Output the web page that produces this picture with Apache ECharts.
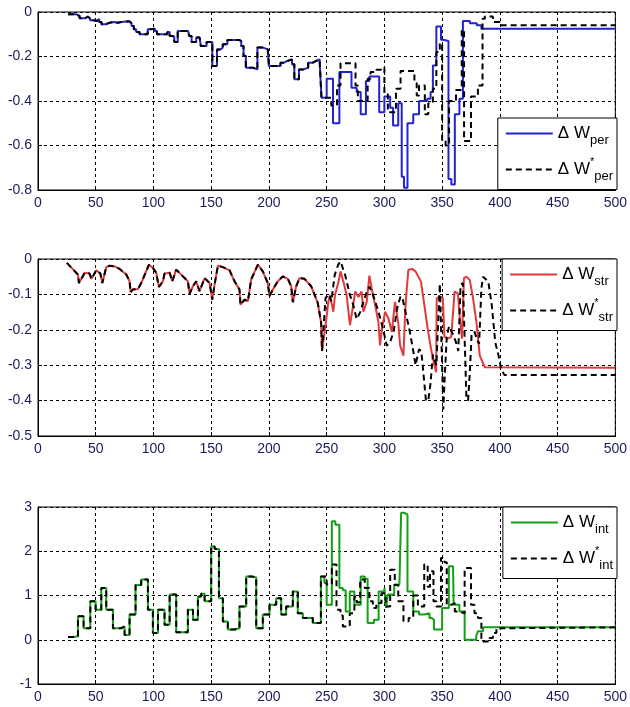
<!DOCTYPE html>
<html>
<head>
<meta charset="utf-8">
<script src="https://cdn.jsdelivr.net/npm/echarts@6/dist/echarts.min.js"></script>
<style>
html, body { margin: 0; padding: 0; background: #fff; }
#chart { width: 630px; height: 707px; }
</style>
</head>
<body>
<div id="chart"></div>
<script>
// ---- data ----
// panel 1 : Delta W_per (stairs), shared part then the two diverging tails
const perCommon = [[26,-0.010],[33,-0.018],[36,-0.028],[41,-0.021],[43,-0.028],[45,-0.037],[48,-0.040],[51,-0.032],[53,-0.045],[55,-0.055],[59,-0.050],[61,-0.047],[63,-0.045],[66,-0.048],[69,-0.045],[72,-0.042],[79,-0.050],[81,-0.063],[83,-0.078],[85,-0.090],[88,-0.100],[95,-0.078],[97,-0.075],[101,-0.085],[103,-0.100],[112,-0.090],[114,-0.108],[116,-0.110],[118,-0.135],[121,-0.085],[130,-0.090],[131,-0.108],[133,-0.135],[137,-0.115],[140,-0.120],[141,-0.153],[146,-0.135],[151,-0.243],[155,-0.168],[158,-0.160],[160,-0.145],[164,-0.126],[174,-0.130],[176,-0.153],[178,-0.198],[180,-0.250],[186,-0.258],[190,-0.160],[195,-0.168],[199,-0.175],[200,-0.243],[210,-0.228],[213,-0.220],[216,-0.213],[220,-0.235],[222,-0.302],[226,-0.258],[230,-0.250],[234,-0.228],[238,-0.220],[241,-0.213],[244,-0.228],[245.5,-0.385]];
const perTail = [[250,-0.30],[255.5,-0.50],[261,-0.27],[271.5,-0.34],[276,-0.36],[279.5,-0.46],[284,-0.31],[287,-0.29],[295.5,-0.45],[300,-0.38],[305,-0.43],[307.5,-0.51],[312,-0.41],[315,-0.74],[317,-0.79],[320,-0.50],[325,-0.46],[330,-0.40],[337,-0.39],[340,-0.36],[342,-0.24],[345,-0.065],[349,-0.125],[351,-0.13],[355.5,-0.75],[358,-0.775],[361,-0.46],[365,-0.39],[368,-0.04],[374,-0.05],[380,-0.06],[384,-0.075],[500,-0.075]];
const perStarTail = [[254,-0.42],[259,-0.33],[262,-0.23],[275,-0.33],[277,-0.40],[285.5,-0.30],[288,-0.27],[293,-0.26],[297,-0.25],[300,-0.37],[303,-0.45],[310,-0.345],[314,-0.265],[326,-0.32],[328,-0.375],[330,-0.33],[335,-0.46],[338,-0.41],[342,-0.345],[345,-0.18],[348,-0.14],[350,-0.58],[353,-0.60],[356,-0.40],[362,-0.35],[367,-0.08],[369,-0.58],[375,-0.38],[381,-0.33],[385,-0.03],[387,-0.02],[394,-0.045],[400,-0.06],[500,-0.06]];

// panel 2 : Delta W_str (plain lines)
const strCommon = [[25,-0.011],[34.6,-0.044],[35.5,-0.068],[40.4,-0.039],[44.7,-0.041],[46.2,-0.056],[50.5,-0.032],[54,-0.041],[55.7,-0.068],[59.1,-0.023],[62,-0.019],[66.4,-0.021],[70.7,-0.028],[76.5,-0.044],[79.3,-0.063],[80.2,-0.094],[82.2,-0.086],[86.6,-0.085],[89.4,-0.068],[96.1,-0.016],[99.5,-0.025],[102.4,-0.039],[104.7,-0.079],[108.2,-0.063],[109.6,-0.041],[114,-0.039],[116.3,-0.063],[119.7,-0.030],[125.5,-0.049],[129.8,-0.063],[131.3,-0.098],[134.2,-0.077],[137,-0.063],[139.9,-0.091],[144.3,-0.054],[148.6,-0.068],[150.9,-0.115],[152.9,-0.073],[155.8,-0.019],[160.1,-0.023],[165.9,-0.032],[170.2,-0.063],[174.5,-0.086],[175.4,-0.129],[178.9,-0.115],[181.8,-0.119],[184.6,-0.058],[190.4,-0.016],[194.7,-0.035],[199,-0.068],[200.5,-0.105],[203.4,-0.086],[207.7,-0.063],[212,-0.049],[216.4,-0.056],[219.3,-0.077],[220.7,-0.122],[223.6,-0.077],[226.5,-0.054],[230.8,-0.056],[236.6,-0.077],[242.3,-0.124],[245.2,-0.180],[246,-0.26]];
const strTail = [[249.4,-0.178],[251.4,-0.121],[253,-0.102],[254.3,-0.125],[255.8,-0.149],[257.2,-0.102],[260,-0.068],[262,-0.035],[264.5,-0.064],[267.3,-0.102],[270.2,-0.187],[273,-0.13],[274.6,-0.092],[277.5,-0.107],[280.3,-0.092],[281.8,-0.149],[284.7,-0.121],[287,-0.047],[289,-0.083],[292,-0.13],[294.8,-0.178],[296.2,-0.244],[297.7,-0.201],[300.6,-0.149],[303.5,-0.168],[306.4,-0.206],[309.2,-0.121],[312.1,-0.182],[313.6,-0.244],[316.5,-0.273],[318,-0.149],[319.4,-0.083],[320.8,-0.030],[324,-0.028],[327,-0.035],[331.7,-0.064],[334.6,-0.13],[337.5,-0.197],[340.4,-0.254],[343.3,-0.30],[344.8,-0.32],[345.3,-0.111],[347.7,-0.106],[350.6,-0.11],[352,-0.22],[355,-0.225],[357.9,-0.22],[360.8,-0.092],[363.7,-0.097],[365.1,-0.16],[367.2,-0.225],[368.9,-0.054],[371,-0.05],[373.9,-0.059],[376.8,-0.111],[379.7,-0.178],[382.6,-0.273],[387,-0.306],[500,-0.307]];
const strStarTail = [[249,-0.11],[252,-0.10],[254,-0.12],[257,-0.045],[260,-0.016],[262,-0.007],[266,-0.045],[270,-0.10],[273,-0.13],[276,-0.17],[279,-0.15],[282,-0.12],[285,-0.09],[287,-0.078],[290,-0.10],[295,-0.15],[299,-0.20],[302,-0.245],[305,-0.235],[308,-0.205],[311,-0.14],[314,-0.105],[316,-0.115],[319,-0.16],[322,-0.205],[325,-0.26],[327,-0.30],[330,-0.255],[332,-0.26],[334,-0.33],[336,-0.40],[338,-0.40],[340,-0.35],[342,-0.27],[345,-0.30],[348,-0.07],[349,-0.068],[350,-0.30],[351,-0.425],[352,-0.35],[354,-0.22],[356,-0.19],[359,-0.21],[362,-0.235],[364,-0.26],[366,-0.073],[368,-0.068],[369.5,-0.225],[371,-0.39],[372.5,-0.40],[374,-0.32],[375.5,-0.215],[378,-0.205],[380,-0.225],[382,-0.24],[384,-0.083],[385.5,-0.05],[387,-0.045],[390,-0.064],[393,-0.13],[396,-0.235],[399,-0.275],[401,-0.31],[404,-0.328],[500,-0.328]];

// panel 3 : Delta W_int (stairs)
const intCommon = [[26,0.06],[31,0.08],[34.6,0.53],[39.5,0.26],[45.3,0.87],[49.9,0.68],[54.8,1.17],[59.1,0.68],[64.9,0.26],[72,0.3],[75,0.11],[79.3,0.57],[84.5,1.24],[89.4,1.36],[95.2,0.68],[99.5,0.15],[103.9,0.68],[109.6,0.34],[114,1.02],[119.7,0.17],[129.8,0.68],[134.2,0.45],[138.5,0.98],[141.3,1.04],[144.3,0.87],[150,2.11],[153,2.05],[156.7,0.94],[160.1,0.41],[164.4,0.23],[170.2,0.26],[174.5,0.75],[180.3,1.43],[185,1.41],[189,0.26],[194.7,0.57],[200.5,0.79],[206.3,0.94],[210.6,0.57],[214.9,0.75],[220.7,1.09],[225,0.6],[229.4,0.49],[238,0.38],[245,1.43]];
const intTail = [[248,1.28],[250,0.79],[254.5,2.68],[257.5,2.6],[261,1.17],[264,1.12],[266.5,0.64],[270,1.09],[274,0.79],[279.5,1.43],[283,1.38],[285.5,0.38],[291,0.45],[295,1.09],[300,1.17],[301.5,0.72],[303,1.02],[308.5,1.25],[313,1.28],[314.5,2.87],[317,2.83],[320,1.09],[325,0.64],[330,0.57],[334.5,0.6],[339,0.49],[341,0.45],[343,0.23],[350,0.72],[355.8,1.66],[359.5,1.58],[360,0.79],[365,0.64],[369.5,0.0],[379.5,0.08],[381,0.19],[385.5,0.28],[500,0.28]];
const intStarTail = [[250,1.25],[254.5,1.7],[258.5,0.68],[262,0.55],[264,0.3],[270,0.6],[274,0.98],[276,0.85],[279,1.36],[283,1.17],[287,0.87],[290,0.72],[293,0.83],[297.5,1.05],[301,0.75],[305,1.58],[309,1.24],[312,0.87],[316.5,0.42],[321,0.49],[325,1.0],[329,0.75],[334.5,1.7],[337.5,1.2],[339.5,1.55],[342.5,0.87],[345,0.75],[349,1.85],[352,1.75],[354,0.79],[358,0.83],[361,0.64],[364,0.6],[369.5,1.62],[375,0.79],[378,0.6],[381,0.49],[384,-0.04],[391,0.04],[394,0.15],[397,0.26],[400,0.28],[500,0.28]];

// axis ranges / ticks
const xRange = [0, 500, 50];
const yRanges = [[-0.8, 0, 0.2], [-0.5, 0, 0.1], [-1, 3, 1]];

const BLUE = '#2323d0', RED = '#e2393b', GREEN = '#14a014', LABEL = '#1c1c5c';
const FONT = 'Liberation Sans, Arial, sans-serif';

const legendText = {
    per: '{d|\u0394 W}{s|per}', perS: '{d|\u0394 W}{u|*}{s|per}',
    str: '{d|\u0394 W}{s|str}', strS: '{d|\u0394 W}{u|*}{s|str}',
    int: '{d|\u0394 W}{s|int}', intS: '{d|\u0394 W}{u|*}{s|int}'
};

const chart = echarts.init(document.getElementById('chart'));

const grids = [
    { left: 38, right: 13, top: 12, height: 178 },
    { left: 38, right: 13, top: 259, height: 177 },
    { left: 38, right: 13, top: 507, height: 177 }
].map(g => Object.assign(g, { show: true, borderColor: '#000', borderWidth: 1, containLabel: false }));

const dashGrid = { show: true, lineStyle: { color: '#000', width: 1, type: [3, 3] } };

const xAxes = grids.map((g, i) => ({
    type: 'value', gridIndex: i, min: xRange[0], max: xRange[1], interval: xRange[2],
    axisLine: { show: true, onZero: false, lineStyle: { color: '#000' } },
    axisTick: { inside: true, length: 4, lineStyle: { color: '#000' } },
    axisLabel: { color: LABEL, fontSize: 14, fontFamily: FONT, margin: 6 },
    splitLine: dashGrid
}));

const yAxes = yRanges.map((r, i) => ({
    type: 'value', gridIndex: i, min: r[0], max: r[1], interval: r[2],
    axisLine: { show: true, onZero: false, lineStyle: { color: '#000' } },
    axisTick: { inside: true, length: 4, lineStyle: { color: '#000' } },
    axisLabel: { color: LABEL, fontSize: 14, fontFamily: FONT, margin: 6,
        formatter: v => String(Math.round(v * 10) / 10) },
    splitLine: dashGrid
}));

function solid(name, idx, data, color, step) {
    return { name: name, type: 'line', xAxisIndex: idx, yAxisIndex: idx, data: data, step: step,
        symbol: 'none', color: color, lineStyle: { color: color, width: 2 } };
}
function dashed(name, idx, data, step) {
    return { name: name, type: 'line', xAxisIndex: idx, yAxisIndex: idx, data: data, step: step,
        symbol: 'none', color: '#000', lineStyle: { color: '#000', width: 2, type: [6, 4] } };
}

const rich = {
    d: { fontSize: 17, fontFamily: FONT, color: '#000', lineHeight: 26 },
    s: { fontSize: 13, fontFamily: FONT, color: '#000', lineHeight: 12, verticalAlign: 'bottom' },
    u: { fontSize: 11, fontFamily: FONT, color: '#000', lineHeight: 12, verticalAlign: 'top' }
};

function legendBox(names, pos) {
    return Object.assign({
        orient: 'vertical', right: 13, data: names,
        itemWidth: 47, itemHeight: 14, itemGap: 10,
        padding: [7, 4, 7, 7],
        backgroundColor: '#fff', borderColor: '#000', borderWidth: 1,
        // hide the marker circle, keep only the line sample
        itemStyle: { opacity: 0, borderWidth: 0 },
        formatter: n => legendText[n],
        textStyle: { rich: rich }
    }, pos);
}

chart.setOption({
    animation: false,
    backgroundColor: '#fff',
    grid: grids,
    xAxis: xAxes,
    yAxis: yAxes,
    legend: [
        legendBox(['per', 'perS'], { top: 118 }),
        legendBox(['str', 'strS'], { top: 259 }),
        legendBox(['int', 'intS'], { top: 507 })
    ],
    series: [
        solid('per', 0, perCommon.concat(perTail), BLUE, 'end'),
        dashed('perS', 0, perCommon.concat(perStarTail), 'end'),
        solid('str', 1, strCommon.concat(strTail), RED, false),
        dashed('strS', 1, strCommon.concat(strStarTail), false),
        solid('int', 2, intCommon.concat(intTail), GREEN, 'end'),
        dashed('intS', 2, intCommon.concat(intStarTail), 'end')
    ]
});
</script>
</body>
</html>
